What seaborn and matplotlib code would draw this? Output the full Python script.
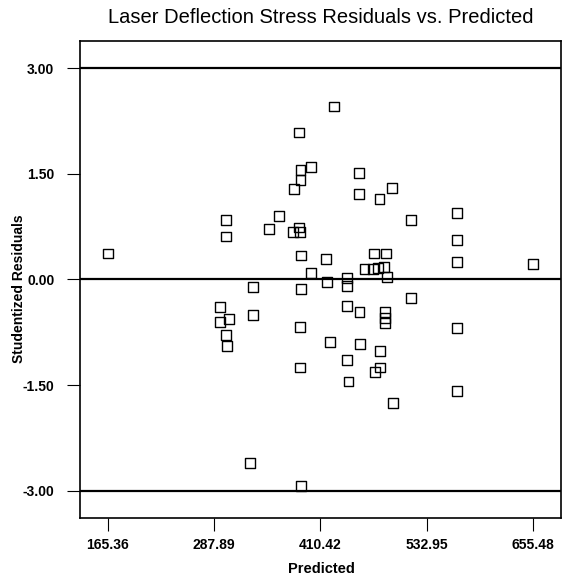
import matplotlib
matplotlib.use("Agg")
import matplotlib.pyplot as plt
import seaborn as sns
import pandas as pd

# Predicted laser deflection stress and the studentized residual of each run
predicted = [
    165.36, 301.6, 301.6, 351.3, 362.8, 379.7, 387.4, 387.4, 399.7, 385.4,
    426.3, 378.9, 386.5, 386.2, 388.0, 417.2, 399.9, 417.6, 332.9, 388.0,
    454.6, 455.0, 478.4, 492.5, 514.8, 567.3, 567.3, 567.3, 655.48, 472.1,
    486.4, 461.2, 470.9, 477.2, 483.5, 486.7, 441.1, 441.1, 514.8, 295.1,
    295.1, 305.4, 301.6, 302.4, 332.9, 386.5, 441.3, 455.4, 484.5, 484.5,
    484.5, 567.3, 421.3, 456.2, 441.3, 479.2, 479.5, 473.0, 442.8, 386.9,
    567.3, 494.1, 329.5, 388.0,
]
residuals = [
    0.37, 0.84, 0.61, 0.72, 0.90, 1.29, 1.41, 1.56, 1.60, 2.09,
    2.46, 0.67, 0.68, 0.74, 0.34, 0.29, 0.09, -0.03, -0.11, -0.14,
    1.51, 1.22, 1.14, 1.30, 0.84, 0.94, 0.56, 0.25, 0.22, 0.37,
    0.37, 0.15, 0.15, 0.16, 0.18, 0.04, 0.02, -0.09, -0.26, -0.39,
    -0.60, -0.56, -0.79, -0.95, -0.50, -0.67, -0.38, -0.46, -0.46, -0.55,
    -0.62, -0.69, -0.89, -0.92, -1.15, -1.02, -1.25, -1.32, -1.45, -1.25,
    -1.58, -1.76, -2.61, -2.93,
]

x_ticks = [165.36, 287.89, 410.42, 532.95, 655.48]
x_tick_labels = ["165.36", "287.89", "410.42", "532.95", "655.48"]
y_ticks = [-3.0, -1.5, 0.0, 1.5, 3.0]
y_tick_labels = ["-3.00", "-1.50", "0.00", "1.50", "3.00"]
limit_lines = [-3.0, 0.0, 3.0]

df = pd.DataFrame({"Predicted": predicted, "Studentized Residuals": residuals})

sns.set_style("white")
plt.rcParams["font.family"] = ["Liberation Sans", "DejaVu Sans"]
plt.rcParams["text.color"] = "black"
plt.rcParams["axes.labelcolor"] = "black"
plt.rcParams["xtick.color"] = "black"
plt.rcParams["ytick.color"] = "black"

fig = plt.figure(figsize=(5.63, 5.83), dpi=100)
ax = fig.add_axes([0.1421, 0.1115, 0.8543, 0.8182])

for level in limit_lines:
    ax.axhline(level, color="black", linewidth=1.6, zorder=1)

sns.scatterplot(
    data=df, x="Predicted", y="Studentized Residuals", ax=ax,
    marker="s", s=50, facecolor="none", edgecolor="black", linewidth=1.0,
    zorder=3,
)

ax.set_xlim(133.5, 687.5)
ax.set_ylim(-3.39, 3.39)

ax.set_xticks(x_ticks)
ax.set_xticklabels(x_tick_labels, fontsize=10, fontweight="bold")
ax.set_yticks(y_ticks)
ax.set_yticklabels(y_tick_labels, fontsize=10, fontweight="bold")
ax.tick_params(axis="both", which="major", direction="out", length=9.4,
               width=0.8, color="black", labelcolor="black",
               bottom=True, left=True)
ax.tick_params(axis="x", pad=5)
ax.tick_params(axis="y", pad=9)

for spine in ax.spines.values():
    spine.set_color("black")
    spine.set_linewidth(1.2)

ax.set_xlabel("Predicted", fontsize=10.5, fontweight="bold", color="black")
ax.set_ylabel("Studentized Residuals", fontsize=10, fontweight="bold",
              color="black")
ax.xaxis.set_label_coords(0.501, -0.092)
ax.yaxis.set_label_coords(-0.112, 0.48)

ax.set_title("Laser Deflection Stress Residuals vs. Predicted",
             fontsize=14.5, pad=13, color="black")

fig.savefig("out.png", dpi=100)
